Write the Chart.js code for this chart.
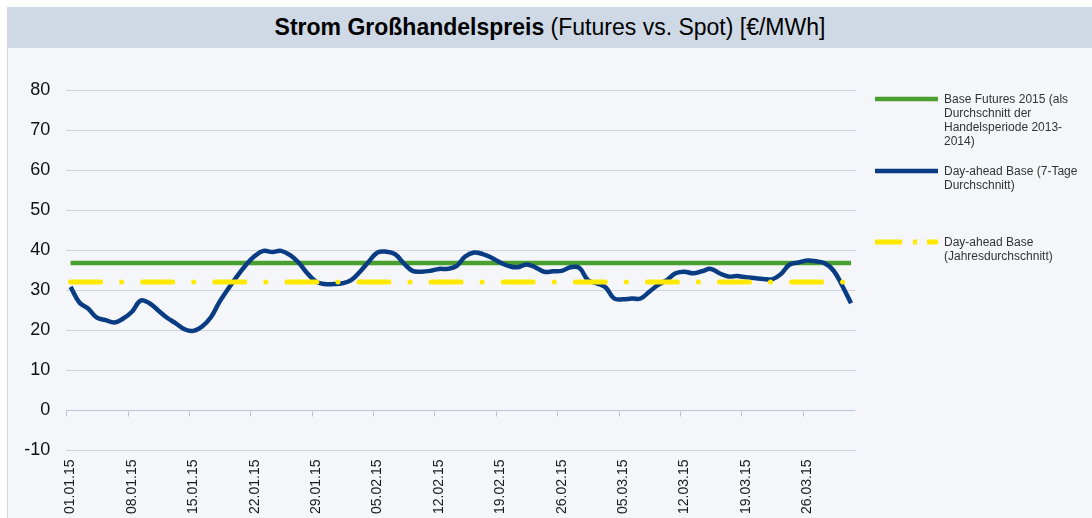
<!DOCTYPE html>
<html>
<head>
<meta charset="utf-8">
<script src="https://cdn.jsdelivr.net/npm/chart.js@4.4.1/dist/chart.umd.min.js"></script>
<style>
    html, body { margin: 0; padding: 0; background: #ffffff; }
    body { width: 1092px; height: 518px; position: relative; overflow: hidden; font-family: "Liberation Sans", Arial, sans-serif; }
    #frame { position: absolute; left: 7px; top: 7px; width: 1085px; height: 511px; background: #F4F6FA; border-left: 1px solid #D3D9E2; box-sizing: border-box; }
    #title { position: absolute; left: 8px; top: 7px; width: 1084px; height: 41px; background: #CED9E5; text-align: center; font-size: 23px; line-height: 41px; color: #000; }
    #wrap { position: absolute; left: 0; top: 0; width: 1092px; height: 518px; }
    .lg { position: absolute; left: 875px; width: 210px; }
    .lg svg { position: absolute; left: 0; top: 0; }
    .lg span { position: absolute; left: 69px; top: -7px; width: 140px; font-size: 12px; line-height: 14px; color: #333; }
</style>
</head>
<body>
<div id="frame"></div>
<div id="title"><b>Strom Großhandelspreis</b> (Futures vs. Spot) [€/MWh]</div>
<div id="wrap"><canvas id="priceChart"></canvas></div>
<div class="lg" style="top:99px">
    <svg width="64" height="8" style="top:-4px"><line x1="0" y1="4" x2="63" y2="4" stroke="#4AA02F" stroke-width="4.5"/></svg>
    <span>Base Futures 2015 (als Durchschnitt der Handelsperiode 2013-2014)</span>
</div>
<div class="lg" style="top:171px">
    <svg width="64" height="8" style="top:-4px"><line x1="0" y1="4" x2="63" y2="4" stroke="#0A3C84" stroke-width="4.5"/></svg>
    <span>Day-ahead Base (7-Tage Durchschnitt)</span>
</div>
<div class="lg" style="top:242px">
    <svg width="64" height="8" style="top:-4px"><line x1="0" y1="4" x2="63" y2="4" stroke="#FFE900" stroke-width="5" stroke-dasharray="27 11 4 10 13"/></svg>
    <span>Day-ahead Base (Jahresdurchschnitt)</span>
</div>
<script>
// Tage 01.01.15 - 31.03.15
const dates = [
    '01.01.15','02.01.15','03.01.15','04.01.15','05.01.15','06.01.15','07.01.15','08.01.15','09.01.15','10.01.15',
    '11.01.15','12.01.15','13.01.15','14.01.15','15.01.15','16.01.15','17.01.15','18.01.15','19.01.15','20.01.15',
    '21.01.15','22.01.15','23.01.15','24.01.15','25.01.15','26.01.15','27.01.15','28.01.15','29.01.15','30.01.15',
    '31.01.15','01.02.15','02.02.15','03.02.15','04.02.15','05.02.15','06.02.15','07.02.15','08.02.15','09.02.15',
    '10.02.15','11.02.15','12.02.15','13.02.15','14.02.15','15.02.15','16.02.15','17.02.15','18.02.15','19.02.15',
    '20.02.15','21.02.15','22.02.15','23.02.15','24.02.15','25.02.15','26.02.15','27.02.15','28.02.15','01.03.15',
    '02.03.15','03.03.15','04.03.15','05.03.15','06.03.15','07.03.15','08.03.15','09.03.15','10.03.15','11.03.15',
    '12.03.15','13.03.15','14.03.15','15.03.15','16.03.15','17.03.15','18.03.15','19.03.15','20.03.15','21.03.15',
    '22.03.15','23.03.15','24.03.15','25.03.15','26.03.15','27.03.15','28.03.15','29.03.15','30.03.15','31.03.15'
];

// Day-ahead Base, 7-Tage Durchschnitt [€/MWh]
const dayAhead7d = [
    30.9, 27.0, 25.5, 23.2, 22.6, 22.0, 23.0, 24.7, 27.5, 26.8,
    25.0, 23.2, 21.8, 20.3, 19.9, 21.0, 23.3, 27.2, 30.5, 33.6,
    36.4, 38.6, 39.9, 39.6, 39.9, 38.9, 37.0, 34.3, 32.2, 31.6,
    31.6, 31.8, 32.6, 34.7, 37.2, 39.5, 39.7, 39.1, 36.8, 34.9,
    34.7, 34.9, 35.4, 35.4, 36.1, 38.5, 39.5, 39.1, 38.2, 37.0,
    36.1, 35.8, 36.5, 35.8, 34.7, 34.8, 34.9, 35.8, 35.7, 32.6,
    31.8, 30.8, 28.0, 27.8, 28.0, 28.0, 29.7, 31.4, 32.6, 34.3,
    34.7, 34.3, 34.8, 35.4, 34.3, 33.5, 33.6, 33.3, 33.1, 32.9,
    32.8, 34.1, 36.5, 37.0, 37.5, 37.3, 36.8, 35.0, 31.2, 26.8
];

// konstante Niveaus
const futuresBase2015 = 36.9;
const dayAheadYearAvg = 32.1;

const yTicks = { min: -10, max: 80, step: 10 };

// kleine Striche an der 0-Linie, alle 7 Tage
const zeroAxisTicks = {
    id: 'zeroAxisTicks',
    beforeDatasetsDraw(chart) {
        const x = chart.scales.x, y = chart.scales.y;
        const y0 = Math.round(y.getPixelForValue(0)) + 0.5;
        const half = (x.getPixelForValue(1) - x.getPixelForValue(0)) / 2;
        const ctx = chart.ctx;
        ctx.save();
        ctx.strokeStyle = '#B5C2D5';
        ctx.lineWidth = 1;
        ctx.beginPath();
        for (let i = 0; i < dates.length; i += 7) {
            const px = Math.round(x.getPixelForValue(i) - half) + 0.5;
            ctx.moveTo(px, y0);
            ctx.lineTo(px, y0 + 5);
        }
        ctx.stroke();
        ctx.restore();
    }
};

new Chart(document.getElementById('priceChart'), {
    type: 'line',
    data: {
        labels: dates,
        datasets: [
            {
                label: 'Day-ahead Base (Jahresdurchschnitt)',
                data: dates.map(() => dayAheadYearAvg),
                borderColor: '#FFE900',
                borderWidth: 5,
                borderDash: [30, 21, 0.1, 21],
                borderCapStyle: 'round',
                pointRadius: 0,
                order: 0
            },
            {
                label: 'Day-ahead Base (7-Tage Durchschnitt)',
                data: dayAhead7d,
                borderColor: '#0A3C84',
                borderWidth: 4.5,
                tension: 0.4,
                pointRadius: 0,
                order: 1
            },
            {
                label: 'Base Futures 2015 (als Durchschnitt der Handelsperiode 2013-2014)',
                data: dates.map(() => futuresBase2015),
                borderColor: '#4AA02F',
                borderWidth: 4.5,
                pointRadius: 0,
                order: 2
            }
        ]
    },
    options: {
        responsive: true,
        maintainAspectRatio: false,
        animation: false,
        layout: { padding: { left: 0, top: 90.5, right: 236.6, bottom: 0 } },
        plugins: {
            legend: { display: false },
            tooltip: { enabled: false }
        },
        scales: {
            x: {
                offset: true,
                grid: { display: false, drawTicks: false },
                border: { display: false },
                afterFit: function(s) { s.height = 67.5; },
                ticks: {
                    autoSkip: false,
                    minRotation: 90,
                    maxRotation: 90,
                    padding: 9,
                    color: '#1a1a1a',
                    font: { family: '"Liberation Sans", Arial, sans-serif', size: 14 },
                    callback: function(v, i) { return i % 7 === 0 ? dates[i] : null; }
                }
            },
            y: {
                min: yTicks.min,
                max: yTicks.max,
                afterFit: function(s) { s.width = 66.2; },
                border: { display: false },
                grid: {
                    drawTicks: false,
                    color: function(c) { return c.tick && c.tick.value === 0 ? '#B9C5D7' : '#CBD3DF'; }
                },
                ticks: {
                    stepSize: yTicks.step,
                    padding: 16,
                    color: '#111',
                    font: { family: '"Liberation Sans", Arial, sans-serif', size: 18 }
                }
            }
        }
    },
    plugins: [zeroAxisTicks]
});
</script>
</body>
</html>
